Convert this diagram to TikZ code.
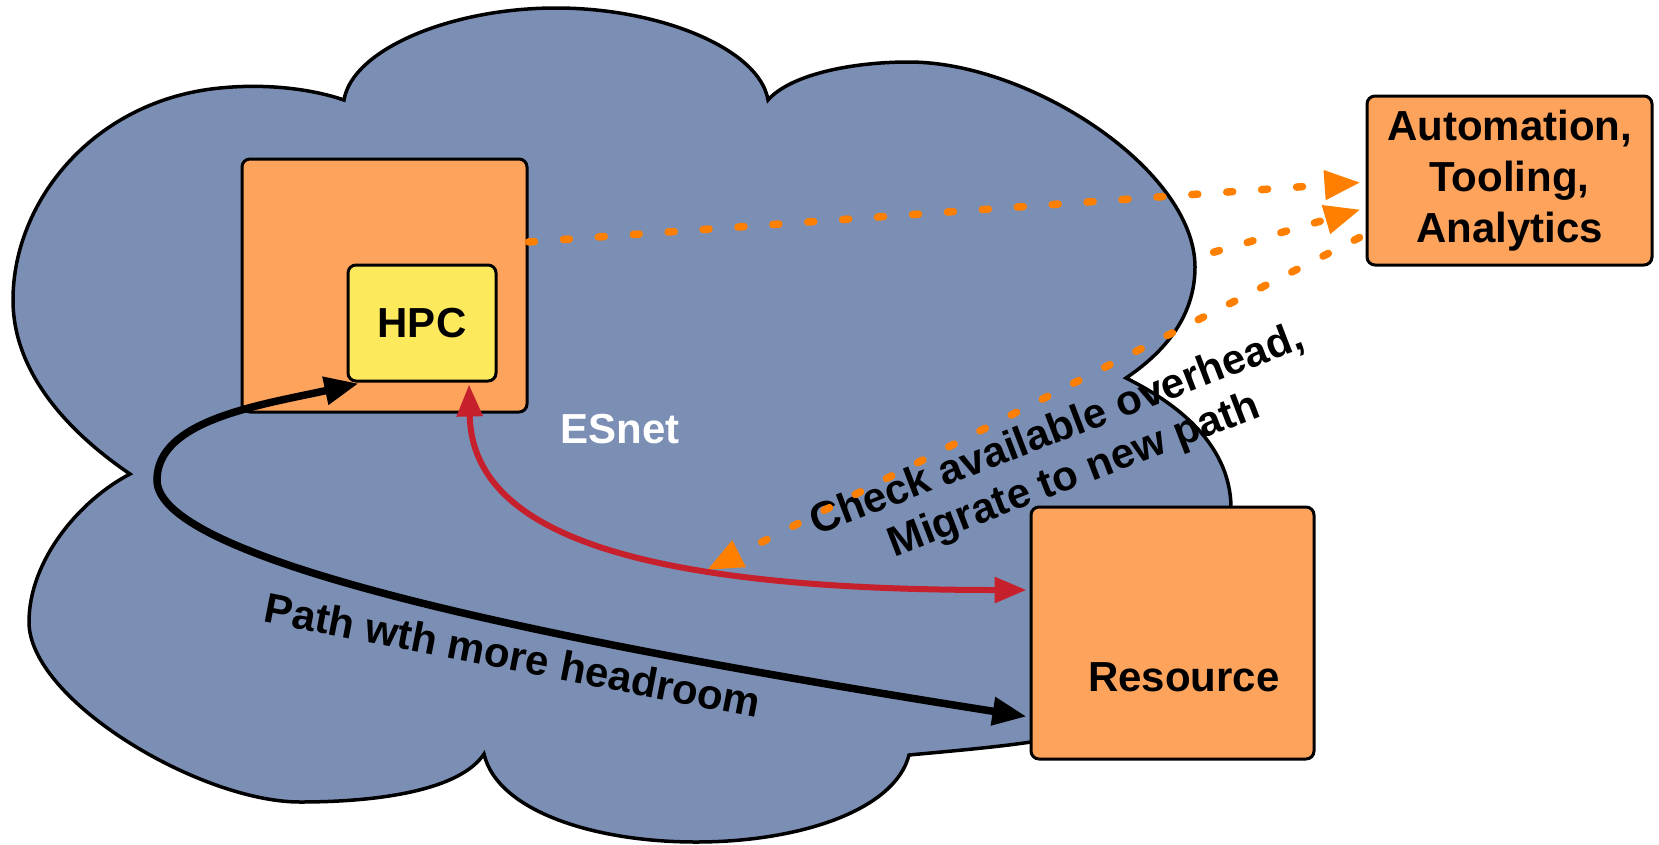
\documentclass[tikz,border=0pt]{standalone}
\usepackage{fontspec}
\setmainfont{Liberation Sans}
\usetikzlibrary{arrows.meta,calc}
\definecolor{cloudfill}{RGB}{123,142,180}
\definecolor{boxorange}{RGB}{253,163,92}
\definecolor{hpcyellow}{RGB}{253,233,92}
\definecolor{redline}{RGB}{198,32,44}
\definecolor{dotorange}{RGB}{255,128,0}
\tikzset{
  obox/.style={draw=black, line width=3pt, rounded corners=8pt, fill=boxorange, inner sep=0pt},
  lbl/.style={font=\fontsize{42}{51}\selectfont\bfseries, inner sep=0pt},
  dotline/.style={draw=dotorange, line width=7.5pt, line cap=round, dash pattern=on 6pt off 29pt,
    -{Triangle[length=36pt,width=28pt]}},
  blackpath/.style={draw=black, line width=7.5pt,
    {Triangle[length=34pt,width=27pt]}-{Triangle[length=34pt,width=27pt]}},
  redpath/.style={draw=redline, line width=6pt,
    {Triangle[length=32pt,width=25pt]}-{Triangle[length=32pt,width=25pt]}},
  cloudshape/.style={draw=black, line width=3.5pt, fill=cloudfill}
}
\begin{document}
\begin{tikzpicture}[x=1pt,y=-1pt]
\useasboundingbox (0,0) rectangle (1659,844);

% tooling box (outside the cloud)
\node[obox, lbl, align=center, minimum width=285pt, minimum height=169pt] (autobox) at (1509.5,180.5)
  {Automation,\\Tooling,\\Analytics};

% dotted line that emerges from behind the cloud
\coordinate (c2start) at (1180,262);
\draw[dotline] (c2start) -- ($(autobox.west)+(-5,29)$);

% cloud (ESnet)
\path[cloudshape]
 (130,474) .. controls (80,440) and (13,380) .. (13,300)
 .. controls (13,200) and (95,100) .. (220,88)
 .. controls (270,83) and (315,90) .. (344,100)
 .. controls (352,50) and (450,8) .. (556,8)
 .. controls (662,8) and (760,50) .. (768,100)
 .. controls (790,75) and (850,62) .. (909,62)
 .. controls (1030,62) and (1195,170) .. (1195,267)
 .. controls (1195,320) and (1160,355) .. (1126,378)
 .. controls (1170,400) and (1230,440) .. (1231,507)
 .. controls (1232,640) and (1120,730) .. (1031,742)
 .. controls (990,748) and (940,752) .. (909,755)
 .. controls (895,810) and (800,842) .. (696,842)
 .. controls (592,842) and (497,810) .. (484,754)
 .. controls (460,790) and (380,802) .. (300,802)
 .. controls (200,802) and (29,700) .. (29,622)
 .. controls (29,560) and (80,500) .. (130,474) -- cycle;

% boxes
\node[obox, minimum width=285pt, minimum height=253pt] (hpcouter) at (384.5,285.5) {};
\node[obox, lbl, fill=hpcyellow, minimum width=148pt, minimum height=116pt] (hpc) at (422,323) {HPC};
\node[obox, minimum width=283pt, minimum height=252pt] (res) at (1172.5,633) {};
\node[lbl] (restext) at (1184,677) {Resource};

% labels
\node[lbl, text=white] (esnet) at (620,429) {ESnet};
\node[lbl, anchor=base, rotate=-11] (pathtext) at (510,670) {Path wth more headroom};
\node[lbl, align=center, rotate=21, font=\fontsize{42}{48}\selectfont\bfseries] (checktext) at (1066,454)
  {Check available overhead,\\Migrate to new path};

% connectors
\draw[dotline] ($(hpcouter.north east)!0.33!(hpcouter.south east)$) -- ($(autobox.west)+(-5,2)$);
\coordinate (c3end) at (707,570);
\draw[dotline] ($(autobox.west)+(-6,57)$) -- (c3end);

\draw[blackpath] ($(hpc.south west)+(12,1)$) .. controls (260,405) and (157,420) .. (157,480)
  .. controls (157,560) and (540,640) .. ($(res.south west)+(-3,-44)$);

\draw[redpath] ($(hpc.south)+(47,2)$) .. controls (472,520) and (600,590) .. ($(res.west)+(-3,-43)$);
\end{tikzpicture}
\end{document}
